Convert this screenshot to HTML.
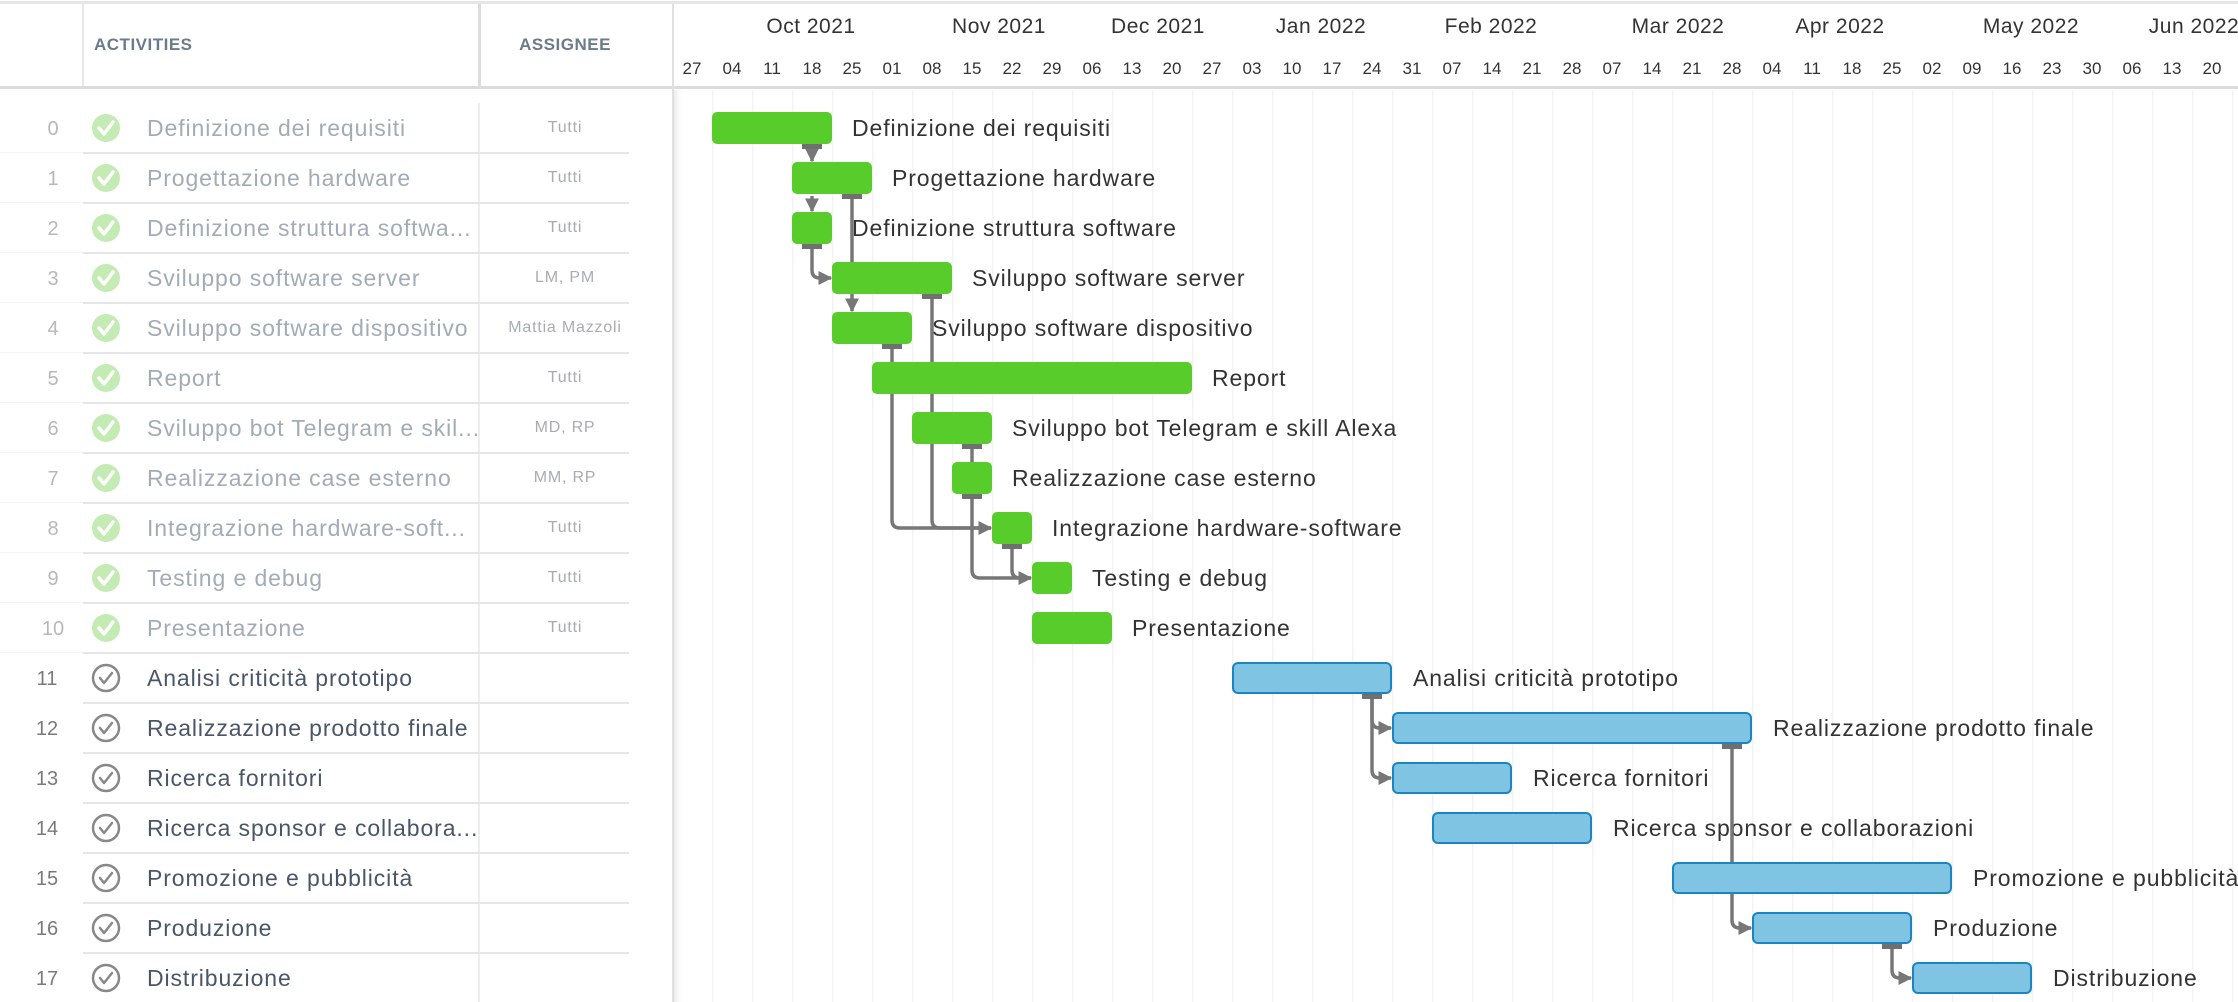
<!DOCTYPE html>
<html><head><meta charset="utf-8"><style>
html,body{margin:0;padding:0;background:#fff;}
svg{display:block;font-family:"Liberation Sans",Arial,sans-serif;}
</style></head><body>
<svg width="2238" height="1002" viewBox="0 0 2238 1002" xmlns="http://www.w3.org/2000/svg">
<defs>
<marker id="ad" viewBox="0 0 10 10" refX="9" refY="5" markerWidth="4" markerHeight="4" orient="auto" markerUnits="strokeWidth"><path d="M0 0 L10 5 L0 10 z" fill="#777"/></marker>
<linearGradient id="sh" x1="0" x2="1"><stop offset="0" stop-color="#e4e4e4"/><stop offset="1" stop-color="#fff" stop-opacity="0"/></linearGradient>
</defs>
<rect x="0" y="0" width="2238" height="1002" fill="#fff"/>
<rect x="0" y="1" width="2238" height="3" fill="#e6e6e6"/>
<g fill="#f3f3f3">
<rect x="712" y="90" width="1.5" height="912"/><rect x="752" y="90" width="1.5" height="912"/><rect x="792" y="90" width="1.5" height="912"/><rect x="832" y="90" width="1.5" height="912"/><rect x="872" y="90" width="1.5" height="912"/><rect x="912" y="90" width="1.5" height="912"/><rect x="952" y="90" width="1.5" height="912"/><rect x="992" y="90" width="1.5" height="912"/><rect x="1032" y="90" width="1.5" height="912"/><rect x="1072" y="90" width="1.5" height="912"/><rect x="1112" y="90" width="1.5" height="912"/><rect x="1152" y="90" width="1.5" height="912"/><rect x="1192" y="90" width="1.5" height="912"/><rect x="1232" y="90" width="1.5" height="912"/><rect x="1272" y="90" width="1.5" height="912"/><rect x="1312" y="90" width="1.5" height="912"/><rect x="1352" y="90" width="1.5" height="912"/><rect x="1392" y="90" width="1.5" height="912"/><rect x="1432" y="90" width="1.5" height="912"/><rect x="1472" y="90" width="1.5" height="912"/><rect x="1512" y="90" width="1.5" height="912"/><rect x="1552" y="90" width="1.5" height="912"/><rect x="1592" y="90" width="1.5" height="912"/><rect x="1632" y="90" width="1.5" height="912"/><rect x="1672" y="90" width="1.5" height="912"/><rect x="1712" y="90" width="1.5" height="912"/><rect x="1752" y="90" width="1.5" height="912"/><rect x="1792" y="90" width="1.5" height="912"/><rect x="1832" y="90" width="1.5" height="912"/><rect x="1872" y="90" width="1.5" height="912"/><rect x="1912" y="90" width="1.5" height="912"/><rect x="1952" y="90" width="1.5" height="912"/><rect x="1992" y="90" width="1.5" height="912"/><rect x="2032" y="90" width="1.5" height="912"/><rect x="2072" y="90" width="1.5" height="912"/><rect x="2112" y="90" width="1.5" height="912"/><rect x="2152" y="90" width="1.5" height="912"/><rect x="2192" y="90" width="1.5" height="912"/><rect x="2232" y="90" width="1.5" height="912"/>
</g>
<rect x="673" y="90" width="10" height="912" fill="url(#sh)"/>
<rect x="0" y="86" width="2238" height="3" fill="#dcdcdc"/>
<rect x="82" y="4" width="2" height="82" fill="#e8e8e8"/>
<rect x="478" y="4" width="3" height="82" fill="#dcdcdc"/>
<rect x="672" y="4" width="2" height="998" fill="#e0e0e0"/>
<text x="94" y="50" font-size="17" font-weight="bold" fill="#6b7a8c" letter-spacing="0.5">ACTIVITIES</text>
<text x="565" y="50" font-size="17" font-weight="bold" fill="#6b7a8c" text-anchor="middle" letter-spacing="0.5">ASSIGNEE</text>
<g font-size="21" fill="#333" text-anchor="middle" letter-spacing="0.5">
<text x="811" y="33">Oct 2021</text><text x="999" y="33">Nov 2021</text><text x="1158" y="33">Dec 2021</text><text x="1321" y="33">Jan 2022</text><text x="1491" y="33">Feb 2022</text><text x="1678" y="33">Mar 2022</text><text x="1840" y="33">Apr 2022</text><text x="2031" y="33">May 2022</text><text x="2194" y="33">Jun 2022</text>
</g>
<g font-size="17" fill="#333" text-anchor="middle">
<text x="692" y="74">27</text><text x="732" y="74">04</text><text x="772" y="74">11</text><text x="812" y="74">18</text><text x="852" y="74">25</text><text x="892" y="74">01</text><text x="932" y="74">08</text><text x="972" y="74">15</text><text x="1012" y="74">22</text><text x="1052" y="74">29</text><text x="1092" y="74">06</text><text x="1132" y="74">13</text><text x="1172" y="74">20</text><text x="1212" y="74">27</text><text x="1252" y="74">03</text><text x="1292" y="74">10</text><text x="1332" y="74">17</text><text x="1372" y="74">24</text><text x="1412" y="74">31</text><text x="1452" y="74">07</text><text x="1492" y="74">14</text><text x="1532" y="74">21</text><text x="1572" y="74">28</text><text x="1612" y="74">07</text><text x="1652" y="74">14</text><text x="1692" y="74">21</text><text x="1732" y="74">28</text><text x="1772" y="74">04</text><text x="1812" y="74">11</text><text x="1852" y="74">18</text><text x="1892" y="74">25</text><text x="1932" y="74">02</text><text x="1972" y="74">09</text><text x="2012" y="74">16</text><text x="2052" y="74">23</text><text x="2092" y="74">30</text><text x="2132" y="74">06</text><text x="2172" y="74">13</text><text x="2212" y="74">20</text>
</g>
<rect x="478" y="103" width="2" height="899" fill="#eeeeee"/>
<g fill="#e6e6e6">
<rect x="83" y="152" width="546" height="2"/><rect x="83" y="202" width="546" height="2"/><rect x="83" y="252" width="546" height="2"/><rect x="83" y="302" width="546" height="2"/><rect x="83" y="352" width="546" height="2"/><rect x="83" y="402" width="546" height="2"/><rect x="83" y="452" width="546" height="2"/><rect x="83" y="502" width="546" height="2"/><rect x="83" y="552" width="546" height="2"/><rect x="83" y="602" width="546" height="2"/><rect x="83" y="652" width="546" height="2"/><rect x="83" y="702" width="546" height="2"/><rect x="83" y="752" width="546" height="2"/><rect x="83" y="802" width="546" height="2"/><rect x="83" y="852" width="546" height="2"/><rect x="83" y="902" width="546" height="2"/><rect x="83" y="952" width="546" height="2"/>
</g>
<g fill="#f4f4f4"><rect x="0" y="152" width="83" height="1"/><rect x="0" y="202" width="83" height="1"/><rect x="0" y="252" width="83" height="1"/><rect x="0" y="302" width="83" height="1"/><rect x="0" y="352" width="83" height="1"/><rect x="0" y="402" width="83" height="1"/><rect x="0" y="452" width="83" height="1"/><rect x="0" y="502" width="83" height="1"/><rect x="0" y="552" width="83" height="1"/><rect x="0" y="602" width="83" height="1"/><rect x="0" y="652" width="83" height="1"/></g>
<g font-size="20" text-anchor="middle" fill="#b8b8b8">
<text x="53" y="135">0</text><text x="53" y="185">1</text><text x="53" y="235">2</text><text x="53" y="285">3</text><text x="53" y="335">4</text><text x="53" y="385">5</text><text x="53" y="435">6</text><text x="53" y="485">7</text><text x="53" y="535">8</text><text x="53" y="585">9</text><text x="53" y="635">10</text>
</g>
<g font-size="20" text-anchor="middle" fill="#7a7a7a">
<text x="47" y="685">11</text><text x="47" y="735">12</text><text x="47" y="785">13</text><text x="47" y="835">14</text><text x="47" y="885">15</text><text x="47" y="935">16</text><text x="47" y="985">17</text>
</g>
<g>
<g fill="#c3ebb3"><circle cx="106" cy="128" r="14"/><circle cx="106" cy="178" r="14"/><circle cx="106" cy="228" r="14"/><circle cx="106" cy="278" r="14"/><circle cx="106" cy="328" r="14"/><circle cx="106" cy="378" r="14"/><circle cx="106" cy="428" r="14"/><circle cx="106" cy="478" r="14"/><circle cx="106" cy="528" r="14"/><circle cx="106" cy="578" r="14"/><circle cx="106" cy="628" r="14"/></g>
<g fill="none" stroke="#fff" stroke-width="3.5" stroke-linecap="round" stroke-linejoin="round">
<path d="M99 128 l5 6 l9 -12"/><path d="M99 178 l5 6 l9 -12"/><path d="M99 228 l5 6 l9 -12"/><path d="M99 278 l5 6 l9 -12"/><path d="M99 328 l5 6 l9 -12"/><path d="M99 378 l5 6 l9 -12"/><path d="M99 428 l5 6 l9 -12"/><path d="M99 478 l5 6 l9 -12"/><path d="M99 528 l5 6 l9 -12"/><path d="M99 578 l5 6 l9 -12"/><path d="M99 628 l5 6 l9 -12"/>
</g>
<g fill="none" stroke="#888" stroke-width="2.5"><circle cx="106" cy="678" r="13"/><circle cx="106" cy="728" r="13"/><circle cx="106" cy="778" r="13"/><circle cx="106" cy="828" r="13"/><circle cx="106" cy="878" r="13"/><circle cx="106" cy="928" r="13"/><circle cx="106" cy="978" r="13"/></g>
<g fill="none" stroke="#888" stroke-width="2.5" stroke-linecap="round" stroke-linejoin="round">
<path d="M100 678 l4 5 l8 -10"/><path d="M100 728 l4 5 l8 -10"/><path d="M100 778 l4 5 l8 -10"/><path d="M100 828 l4 5 l8 -10"/><path d="M100 878 l4 5 l8 -10"/><path d="M100 928 l4 5 l8 -10"/><path d="M100 978 l4 5 l8 -10"/>
</g>
</g>
<g font-size="23" fill="#a3abb6" letter-spacing="0.9">
<text x="147" y="136">Definizione dei requisiti</text>
<text x="147" y="186">Progettazione hardware</text>
<text x="147" y="236">Definizione struttura softwa...</text>
<text x="147" y="286">Sviluppo software server</text>
<text x="147" y="336">Sviluppo software dispositivo</text>
<text x="147" y="386">Report</text>
<text x="147" y="436">Sviluppo bot Telegram e skil...</text>
<text x="147" y="486">Realizzazione case esterno</text>
<text x="147" y="536">Integrazione hardware-soft...</text>
<text x="147" y="586">Testing e debug</text>
<text x="147" y="636">Presentazione</text>
</g>
<g font-size="23" fill="#4a5668" letter-spacing="0.9">
<text x="147" y="686">Analisi criticità prototipo</text>
<text x="147" y="736">Realizzazione prodotto finale</text>
<text x="147" y="786">Ricerca fornitori</text>
<text x="147" y="836">Ricerca sponsor e collabora...</text>
<text x="147" y="886">Promozione e pubblicità</text>
<text x="147" y="936">Produzione</text>
<text x="147" y="986">Distribuzione</text>
</g>
<g font-size="16" fill="#a8acb2" text-anchor="middle" letter-spacing="0.8">
<text x="565" y="132">Tutti</text><text x="565" y="182">Tutti</text><text x="565" y="232">Tutti</text><text x="565" y="282">LM, PM</text><text x="565" y="332">Mattia Mazzoli</text><text x="565" y="382">Tutti</text><text x="565" y="432">MD, RP</text><text x="565" y="482">MM, RP</text><text x="565" y="532">Tutti</text><text x="565" y="582">Tutti</text><text x="565" y="632">Tutti</text>
</g>
<g font-size="23" fill="#333" letter-spacing="0.9">
<text x="852" y="136">Definizione dei requisiti</text>
<text x="892" y="186">Progettazione hardware</text>
<text x="852" y="236">Definizione struttura software</text>
<text x="972" y="286">Sviluppo software server</text>
<text x="932" y="336">Sviluppo software dispositivo</text>
<text x="1212" y="386">Report</text>
<text x="1012" y="436">Sviluppo bot Telegram e skill Alexa</text>
<text x="1012" y="486">Realizzazione case esterno</text>
<text x="1052" y="536">Integrazione hardware-software</text>
<text x="1092" y="586">Testing e debug</text>
<text x="1132" y="636">Presentazione</text>
<text x="1413" y="686">Analisi criticità prototipo</text>
<text x="1773" y="736">Realizzazione prodotto finale</text>
<text x="1533" y="786">Ricerca fornitori</text>
<text x="1613" y="836">Ricerca sponsor e collaborazioni</text>
<text x="1973" y="886">Promozione e pubblicità</text>
<text x="1933" y="936">Produzione</text>
<text x="2053" y="986">Distribuzione</text>
</g>
<g fill="none" stroke="#777" stroke-width="3.5">
<path d="M812 146 V161" marker-end="url(#ad)"/>
<path d="M812 196 V211" marker-end="url(#ad)"/>
<path d="M812 246 V270 Q812 278 820 278 H831" marker-end="url(#ad)"/>
<path d="M852 196 V311" marker-end="url(#ad)"/>
<path d="M932 296 V520 Q932 528 940 528 H991"/>
<path d="M892 346 V520 Q892 528 900 528 H991" marker-end="url(#ad)"/>
<path d="M972 446 V462"/>
<path d="M972 496 V570 Q972 578 980 578 H1031" marker-end="url(#ad)"/>
<path d="M1012 546 V570 Q1012 578 1020 578 H1031"/>
<path d="M1372 696 V720 Q1372 728 1380 728 H1391" marker-end="url(#ad)"/>
<path d="M1372 696 V770 Q1372 778 1380 778 H1391" marker-end="url(#ad)"/>
<path d="M1732 746 V920 Q1732 928 1740 928 H1751" marker-end="url(#ad)"/>
<path d="M1892 946 V970 Q1892 978 1900 978 H1911" marker-end="url(#ad)"/>
</g>
<g fill="#707070">
<rect x="802" y="144" width="20" height="5"/><rect x="842" y="194" width="20" height="5"/><rect x="802" y="244" width="20" height="5"/><rect x="922" y="294" width="20" height="5"/><rect x="882" y="344" width="20" height="5"/><rect x="962" y="444" width="20" height="5"/><rect x="962" y="494" width="20" height="5"/><rect x="1002" y="544" width="20" height="5"/><rect x="1362" y="694" width="20" height="5"/><rect x="1722" y="744" width="20" height="5"/><rect x="1882" y="944" width="20" height="5"/>
</g>
<g fill="#57cc2a">
<rect x="712" y="112" width="120" height="32" rx="5"/>
<rect x="792" y="162" width="80" height="32" rx="5"/>
<rect x="792" y="212" width="40" height="32" rx="5"/>
<rect x="832" y="262" width="120" height="32" rx="5"/>
<rect x="832" y="312" width="80" height="32" rx="5"/>
<rect x="872" y="362" width="320" height="32" rx="5"/>
<rect x="912" y="412" width="80" height="32" rx="5"/>
<rect x="952" y="462" width="40" height="32" rx="5"/>
<rect x="992" y="512" width="40" height="32" rx="5"/>
<rect x="1032" y="562" width="40" height="32" rx="5"/>
<rect x="1032" y="612" width="80" height="32" rx="5"/>
</g>
<g fill="#80c4e4" stroke="#1a85c0" stroke-width="2">
<rect x="1233" y="663" width="158" height="30" rx="5"/>
<rect x="1393" y="713" width="358" height="30" rx="5"/>
<rect x="1393" y="763" width="118" height="30" rx="5"/>
<rect x="1433" y="813" width="158" height="30" rx="5"/>
<rect x="1673" y="863" width="278" height="30" rx="5"/>
<rect x="1753" y="913" width="158" height="30" rx="5"/>
<rect x="1913" y="963" width="118" height="30" rx="5"/>
</g>
</svg>
</body></html>
